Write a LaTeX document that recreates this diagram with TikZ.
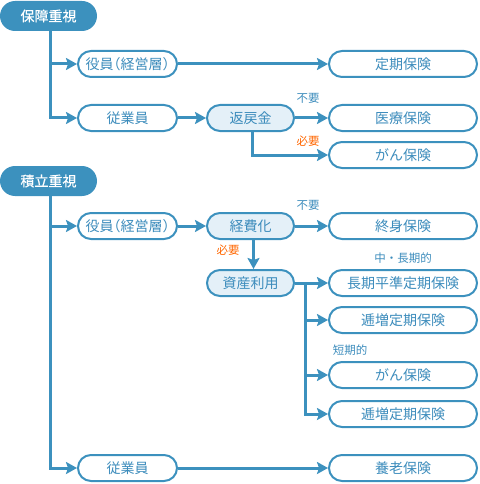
\documentclass[tikz,border=0pt]{standalone}
\usepackage{fontspec}
\setmainfont{Noto Sans CJK JP}
\newfontfamily\hdrfont{Noto Sans CJK JP}[FakeBold=0.6]
\usetikzlibrary{arrows.meta}
\definecolor{mainblue}{RGB}{60,145,190}
\definecolor{textblue}{RGB}{60,140,188}
\definecolor{lightfill}{RGB}{228,240,248}
\definecolor{orangelbl}{RGB}{255,102,0}
\newcommand{\lpar}{\kern-7pt（}
\newcommand{\rpar}{）\kern-7pt}
\tikzset{
  pillbase/.style={rounded corners=13pt, minimum height=26pt, inner sep=0pt, line width=2pt, draw=mainblue, text=textblue, font=\fontsize{14}{14}\selectfont},
  leftbox/.style={pillbase, fill=white, minimum width=99pt},
  midbox/.style={pillbase, fill=lightfill, minimum width=87pt},
  resbox/.style={pillbase, fill=white, minimum width=148pt},
  header/.style={rounded corners=15pt, minimum height=30pt, minimum width=97pt, inner sep=0pt, fill=mainblue, text=white, font=\fontsize{14}{14}\hdrfont},
  conn/.style={line width=3pt, draw=mainblue, -{Stealth[length=11pt,width=12pt,inset=2pt]}},
  lbl/.style={text=textblue, font=\fontsize{11.5}{11.5}\selectfont, inner sep=0pt},
  olbl/.style={text=orangelbl, font=\fontsize{11.5}{11.5}\selectfont, inner sep=0pt},
}
\begin{document}
\begin{tikzpicture}[x=1pt,y=-1pt]
\useasboundingbox (0,0) rectangle (479,484);
% nodes
\node[header] (h1) at (48.5,16) {保障重視};
\node[leftbox] (a1) at (127.5,64) {役員\lpar 経営層\rpar};
\node[resbox] (r1) at (403,64) {定期保険};
\node[leftbox] (b1) at (127.5,118) {従業員};
\node[midbox] (c1) at (250.5,118) {返戻金};
\node[resbox] (r2) at (403,118) {医療保険};
\node[resbox] (r3) at (403,155) {がん保険};
\node[header] (h2) at (48.5,181) {積立重視};
\node[leftbox] (a2) at (127.5,226) {役員\lpar 経営層\rpar};
\node[midbox] (c2) at (250.5,226) {経費化};
\node[resbox] (r4) at (403,226) {終身保険};
\node[midbox] (c3) at (250.5,283) {資産利用};
\node[resbox] (r5) at (403,283) {長期平準定期保険};
\node[resbox] (r6) at (403,320) {逓増定期保険};
\node[resbox] (r7) at (403,375) {がん保険};
\node[resbox] (r8) at (403,414) {逓増定期保険};
\node[leftbox] (b2) at (127.5,468) {従業員};
\node[resbox] (r9) at (403,468) {養老保険};
% labels
\node[lbl] (l1) at (308,98) {不要};
\node[olbl] (l2) at (308,141) {必要};
\node[lbl] (l3) at (308,205) {不要};
\node[olbl] (l4) at (228,250) {必要};
\node[lbl] (l5) at (403,258) {中・長期的};
\node[lbl] (l6) at (350,350) {短期的};
% connectors
\draw[conn] ([xshift=1.5pt]h1.south) |- (a1.west);
\draw[conn] ([xshift=1.5pt]h1.south) |- (b1.west);
\draw[conn] (a1.east) -- (r1.west);
\draw[conn] (b1.east) -- (c1.west);
\draw[conn] (c1.east) -- (r2.west);
\draw[conn] ([xshift=1.5pt]c1.south) |- (r3.west);
\draw[conn] ([xshift=1.5pt]h2.south) |- (a2.west);
\draw[conn] ([xshift=1.5pt]h2.south) |- (b2.west);
\draw[conn] (a2.east) -- (c2.west);
\draw[conn] (c2.east) -- (r4.west);
\draw[conn] ([xshift=3pt]c2.south) -- ([xshift=3pt]c3.north);
\draw[conn] (c3.east) -- (r5.west);
\coordinate (j) at (305,283);
\draw[conn] (j) |- (r6.west);
\draw[conn] (j) |- (r7.west);
\draw[conn] (j) |- (r8.west);
\draw[conn] (b2.east) -- (r9.west);
\end{tikzpicture}
\end{document}
